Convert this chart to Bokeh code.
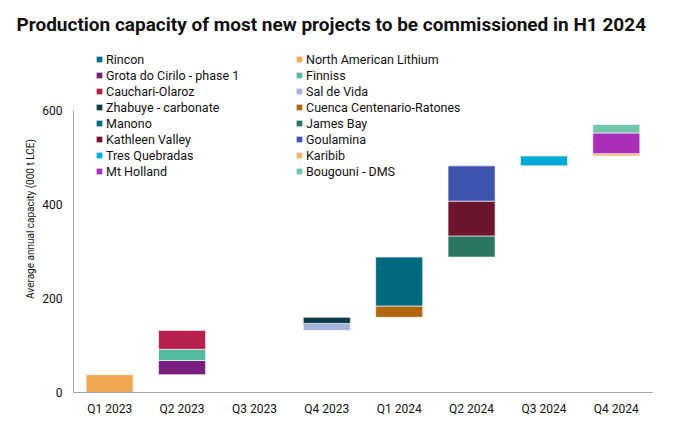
from bokeh.plotting import figure
from bokeh.models import Legend, LegendItem, ColumnDataSource, FactorRange, Range1d
from bokeh.embed import file_html
from bokeh.resources import INLINE

quarters = ["Q1 2023", "Q2 2023", "Q3 2023", "Q4 2023",
            "Q1 2024", "Q2 2024", "Q3 2024", "Q4 2024"]

projects = ["Rincon", "North American Lithium", "Grota do Cirilo - phase 1", "Finniss",
            "Cauchari-Olaroz", "Sal de Vida", "Zhabuye - carbonate", "Cuenca Centenario-Ratones",
            "Manono", "James Bay", "Kathleen Valley", "Goulamina",
            "Tres Quebradas", "Karibib", "Mt Holland", "Bougouni - DMS"]

project_quarter = ["Q1 2024", "Q1 2023", "Q2 2023", "Q2 2023",
                   "Q2 2023", "Q4 2023", "Q4 2023", "Q1 2024",
                   "Q1 2024", "Q2 2024", "Q2 2024", "Q2 2024",
                   "Q3 2024", "Q4 2024", "Q4 2024", "Q4 2024"]

capacity = [0, 38, 30, 24,
            40, 15, 13, 24,
            104, 45, 74, 75,
            21, 5, 44, 18]

colors = ["#0b6e83", "#f0a850", "#7a1f7e", "#52bba0",
          "#b8214d", "#a9b3e0", "#0c3b4a", "#b0650f",
          "#006b80", "#2c7560", "#6c1430", "#3f55ad",
          "#00a9d6", "#f4b469", "#a92fb9", "#72c6ad"]

FONT = "Roboto"

p = figure(width=696, height=429, x_range=FactorRange(*quarters),
           y_range=Range1d(0, 738), output_backend="svg", toolbar_location=None,
           min_border_left=73, min_border_right=44, min_border_top=45, min_border_bottom=37)

p.title.text = "Production capacity of most new projects to be commissioned in H1 2024"
p.title.text_font = FONT
p.title.text_font_size = "19px"
p.title.text_font_style = "bold"
p.title.text_color = "#111111"
p.title.align = "left"
p.title.offset = -57
p.title.standoff = 19

p.outline_line_color = None
p.xgrid.grid_line_color = None
p.ygrid.grid_line_color = None
p.background_fill_color = "white"
p.border_fill_color = "white"

renderers = []
running = 0.0
for name, q, v, c in zip(projects, project_quarter, capacity, colors):
    src = ColumnDataSource(dict(x=[q], bottom=[running], top=[running + v]))
    r = p.vbar(x="x", bottom="bottom", top="top", width=0.65, source=src,
               fill_color=c, line_color="white", line_alpha=0.6, line_width=1)
    renderers.append((name, r))
    running += v

for cols, vx in ((renderers[0::2], 22), (renderers[1::2], 222)):
    items = [LegendItem(label=n, renderers=[r]) for n, r in cols]
    leg = Legend(items=items, location=(vx, 213), orientation="vertical",
                 glyph_width=8, glyph_height=8, label_height=16, spacing=0,
                 label_standoff=3, padding=0, margin=0,
                 label_text_font=FONT, label_text_font_size="12.5px",
                 label_text_color="#111111",
                 border_line_color=None, background_fill_alpha=0)
    p.add_layout(leg, "center")

yax = p.yaxis[0]
yax.ticker = [0, 200, 400, 600]
yax.bounds = (0, 600)
yax.axis_label = "Average annual capacity (000 t LCE)"
yax.axis_label_text_font = FONT
yax.axis_label_text_font_size = "10px"
yax.axis_label_text_font_style = "normal"
yax.axis_label_text_color = "#111111"
yax.axis_label_standoff = 3
yax.major_label_text_font = FONT
yax.major_label_text_font_size = "12px"
yax.major_label_text_color = "#111111"
yax.major_tick_line_color = None
yax.major_tick_out = 0
yax.major_tick_in = 0
yax.minor_tick_line_color = None
yax.major_label_standoff = 11
yax.axis_line_color = "#a6a6a6"

xax = p.xaxis[0]
xax.major_label_text_font = FONT
xax.major_label_text_font_size = "12px"
xax.major_label_text_color = "#111111"
xax.major_tick_line_color = None
xax.major_tick_out = 0
xax.major_tick_in = 0
xax.major_label_standoff = 9
xax.axis_line_color = "#a6a6a6"

open("out.html", "w").write(file_html(p, INLINE))
